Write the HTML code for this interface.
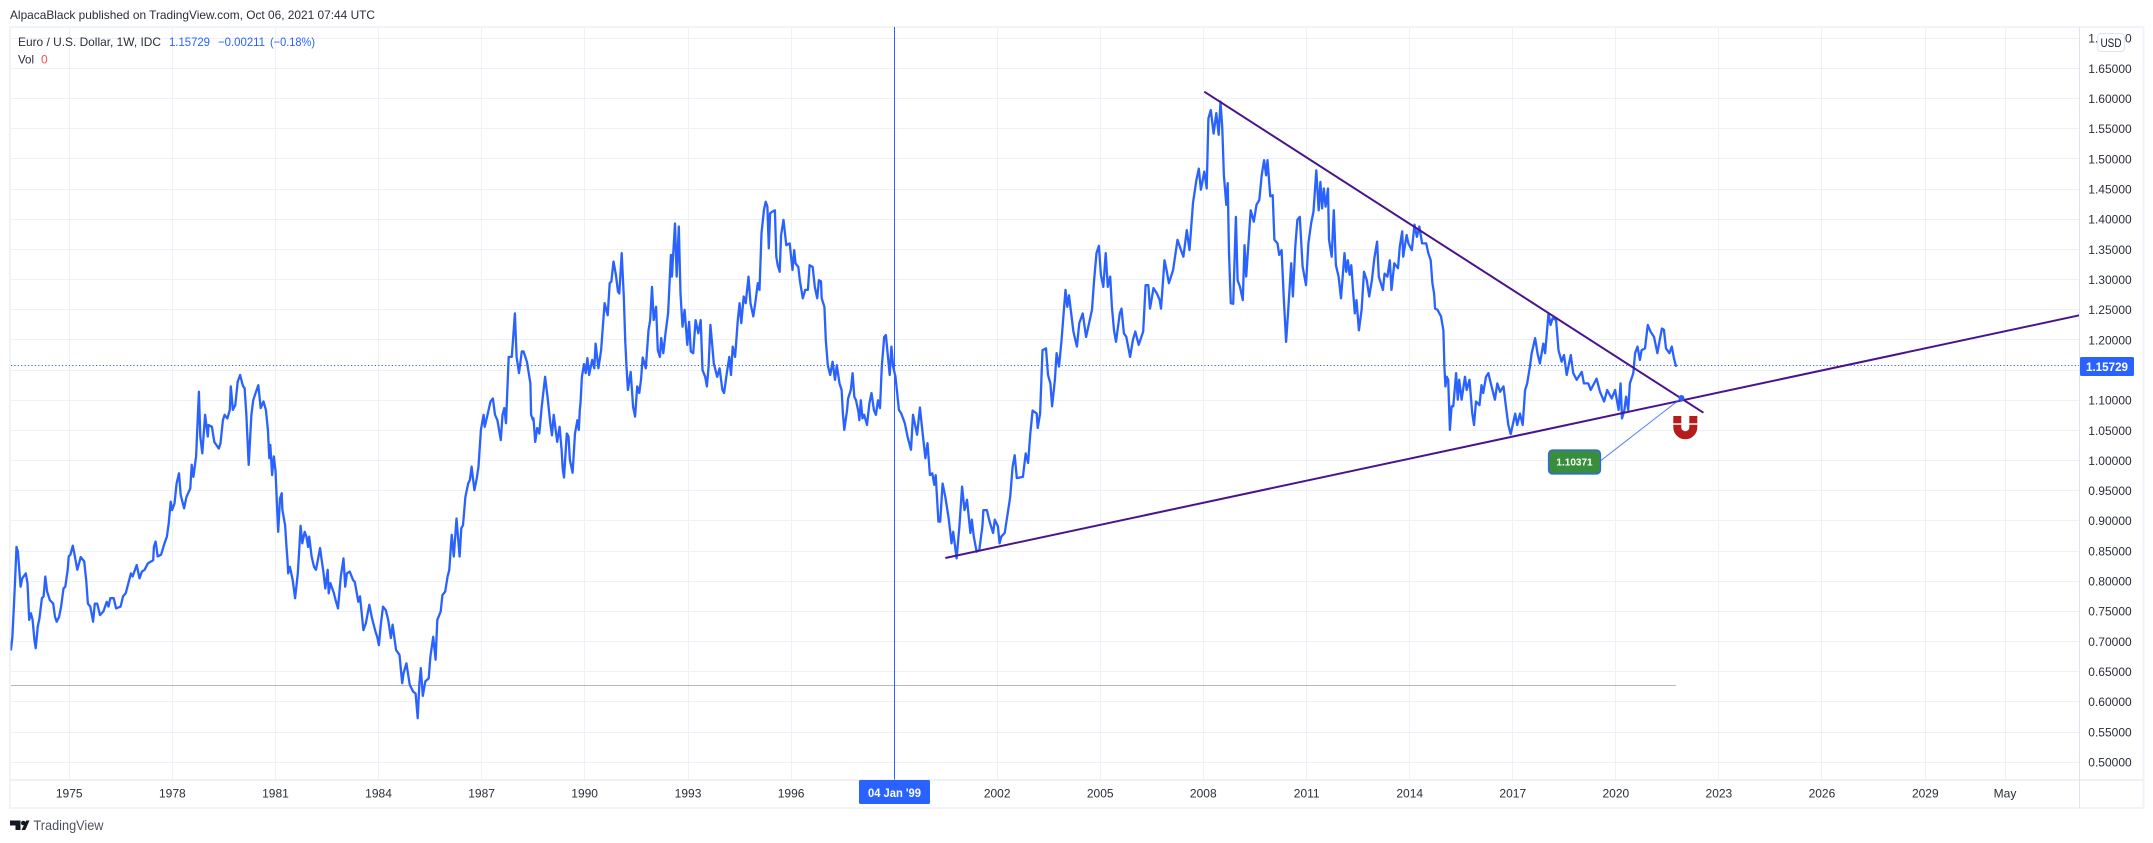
<!DOCTYPE html>
<html lang="en">
<head>
<meta charset="utf-8">
<title>EUR/USD weekly chart</title>
<style>
html,body{margin:0;padding:0;background:#fff;width:2153px;height:843px;overflow:hidden}
svg{display:block}
text{font-family:"Liberation Sans",Arial,sans-serif}
</style>
</head>
<body>
<svg id="chart" xmlns="http://www.w3.org/2000/svg" width="2153" height="843" viewBox="0 0 2153 843">
  <defs>
    <clipPath id="plot-clip"><rect x="10.5" y="27" width="2068.5" height="753"/></clipPath>
  </defs>
  <rect x="0" y="0" width="2153" height="843" fill="#ffffff"/>
  <text x="10" y="19" font-size="12" fill="#2a2e39" textLength="365" lengthAdjust="spacingAndGlyphs">AlpacaBlack published on TradingView.com, Oct 06, 2021 07:44 UTC</text>
  <rect x="10" y="27" width="2133.5" height="781" fill="#ffffff" stroke="#f0f3fa" stroke-width="2"/>
  <g id="grid"></g>
  <g clip-path="url(#plot-clip)">
    <g id="volume" opacity="0.55"></g>
    <line id="last-price-line" stroke="#2962ff" stroke-width="1" stroke-dasharray="1.2 2.2"/>
    <line id="crosshair" stroke="#2962ff" stroke-width="1"/>
    <path id="price-line" fill="none" stroke="#2962ff" stroke-width="2.3" stroke-linejoin="round" stroke-linecap="round"/>
    <g id="trendlines"></g>
    <line id="callout-line" stroke="#2962ff" stroke-opacity="0.8" stroke-width="1"/>
    <circle id="callout-dot" r="3" fill="#2962ff"/>
  </g>
  <g>
    <path d="M1677.3 424.8 V427.3 A8 8 0 0 0 1693.3 427.3 V424.8" fill="none" stroke="#b71c1c" stroke-width="8"/>
    <rect x="1673.3" y="416" width="8" height="7.3" fill="#b71c1c"/>
    <rect x="1689.3" y="416" width="8" height="7.3" fill="#b71c1c"/>
  </g>
  <g>
    <rect x="1548.5" y="450" width="52" height="24" rx="4" fill="#388e3c" stroke="#2962ff" stroke-width="1.2"/>
    <text id="callout-text" x="1574.5" y="465.5" font-size="10" font-weight="700" fill="#ffffff" text-anchor="middle">1.10371</text>
  </g>
  <line x1="10" y1="780" x2="2143" y2="780" stroke="#e0e3eb" stroke-width="1"/>
  <line x1="2079.5" y1="27" x2="2079.5" y2="808" stroke="#e0e3eb" stroke-width="1"/>
  <g id="y-axis"></g>
  <g id="x-axis"></g>
  <g>
    <rect x="2097.7" y="33.5" width="26.6" height="18" rx="3" fill="#ffffff" stroke="#e0e3eb" stroke-width="1"/>
    <text x="2111" y="47" font-size="12" fill="#131722" text-anchor="middle" textLength="21" lengthAdjust="spacingAndGlyphs">USD</text>
  </g>
  <g>
    <rect x="2080" y="357" width="54" height="19" rx="1.5" fill="#2962ff"/>
    <text x="2107" y="371" font-size="12" font-weight="700" fill="#ffffff" text-anchor="middle" textLength="42" lengthAdjust="spacingAndGlyphs">1.15729</text>
  </g>
  <g>
    <rect x="859" y="780" width="71" height="24" rx="1.5" fill="#2962ff"/>
    <text x="894.5" y="797" font-size="12" font-weight="700" fill="#ffffff" text-anchor="middle" textLength="53" lengthAdjust="spacingAndGlyphs">04 Jan '99</text>
  </g>
  <g>
    <text x="18" y="46" font-size="12" fill="#2a2e39" textLength="143" lengthAdjust="spacingAndGlyphs">Euro / U.S. Dollar, 1W, IDC</text>
    <text x="169" y="46" font-size="12" fill="#2962ff" textLength="41" lengthAdjust="spacingAndGlyphs">1.15729</text>
    <text x="218" y="46" font-size="12" fill="#2962ff" textLength="47" lengthAdjust="spacingAndGlyphs">−0.00211</text>
    <text x="270" y="46" font-size="12" fill="#2962ff" textLength="45" lengthAdjust="spacingAndGlyphs">(−0.18%)</text>
    <text x="18" y="63.5" font-size="12" fill="#2a2e39" textLength="16" lengthAdjust="spacingAndGlyphs">Vol</text>
    <text x="41" y="63.5" font-size="12" fill="#ef5350">0</text>
  </g>
  <g>
    <polygon points="10,820.5 20.5,820.5 20.5,830 15.5,830 15.5,825.5 10,825.5" fill="#131722"/>
    <circle cx="23.3" cy="823" r="2.3" fill="#131722"/>
    <polygon points="21.5,830 26.2,820.5 29.5,820.5 25.3,830" fill="#131722"/>
    <text x="33.5" y="830" font-size="14" fill="#50535e" textLength="70" lengthAdjust="spacingAndGlyphs">TradingView</text>
  </g>
</svg>
<script>
const yTickValues = [1.70,1.65,1.60,1.55,1.50,1.45,1.40,1.35,1.30,1.25,1.20,1.15,1.10,1.05,1.00,0.95,0.90,0.85,0.80,0.75,0.70,0.65,0.60,0.55,0.50];
const xTickYears = [1975.005,1978.007,1981.01,1984.01,1987.01,1990.01,1993.02,1996.02,1999.02,2002.02,2005.02,2008.02,2011.03,2014.03,2017.03,2020.03,2023.03,2026.03,2029.04,2031.36];
const xTickLabels = ["1975","1978","1981","1984","1987","1990","1993","1996","","2002","2005","2008","2011","2014","2017","2020","2023","2026","2029","May"];
const lastClose = 1.15729;
const crosshairYear = 1999.03;
const volumeBaseline = 0.6276;
const calloutYear = 2021.94;
const calloutPrice = 1.10371;
const supportYears = [2000.51,2023.64,2035];
const supportPrices = [0.8386,1.1237,1.2588];
const resistanceYears = [2008.05,2022.58];
const resistancePrices = [1.6115,1.0794];

const years = [
1973.31,1973.35,1973.39,1973.43,1973.47,1973.51,1973.59,1973.64,1973.74,1973.79,1973.84,1973.89,1973.94,1973.99,1974.03,1974.09,1974.14,1974.21,1974.26,1974.31,
1974.36,1974.44,1974.54,1974.59,1974.64,1974.71,1974.77,1974.84,1974.89,1974.96,1974.99,1975.04,1975.11,1975.17,1975.24,1975.34,1975.44,1975.50,1975.55,1975.62,
1975.70,1975.75,1975.82,1975.90,1976.00,1976.10,1976.15,1976.20,1976.30,1976.37,1976.50,1976.57,1976.65,1976.75,1976.80,1976.85,1976.97,1977.05,1977.12,1977.20,
1977.30,1977.45,1977.47,1977.52,1977.58,1977.68,1977.78,1977.85,1977.90,1977.96,1978.00,1978.07,1978.13,1978.20,1978.25,1978.35,1978.42,1978.53,1978.57,1978.62,
1978.70,1978.78,1978.82,1978.88,1978.96,1979.04,1979.06,1979.16,1979.23,1979.36,1979.41,1979.48,1979.53,1979.61,1979.68,1979.71,1979.77,1979.84,1979.91,1979.98,
1980.06,1980.11,1980.16,1980.23,1980.31,1980.36,1980.43,1980.51,1980.58,1980.66,1980.73,1980.79,1980.83,1980.86,1980.91,1980.96,1981.01,1981.06,1981.09,1981.14,
1981.19,1981.21,1981.29,1981.33,1981.36,1981.38,1981.43,1981.51,1981.58,1981.66,1981.71,1981.74,1981.79,1981.86,1981.91,1981.96,1981.99,1982.06,1982.13,1982.19,
1982.31,1982.34,1982.41,1982.46,1982.53,1982.56,1982.61,1982.71,1982.76,1982.83,1982.91,1982.99,1983.04,1983.09,1983.17,1983.27,1983.32,1983.42,1983.47,1983.57,
1983.64,1983.74,1983.82,1983.92,1983.97,1984.02,1984.07,1984.14,1984.22,1984.29,1984.37,1984.42,1984.52,1984.62,1984.70,1984.74,1984.82,1984.92,1985.02,1985.09,
1985.15,1985.20,1985.24,1985.30,1985.37,1985.47,1985.52,1985.60,1985.67,1985.72,1985.82,1985.87,1985.95,1986.02,1986.07,1986.14,1986.20,1986.28,1986.37,1986.42,
1986.47,1986.54,1986.62,1986.67,1986.72,1986.80,1986.87,1986.92,1986.99,1987.07,1987.10,1987.17,1987.27,1987.34,1987.40,1987.47,1987.57,1987.62,1987.67,1987.72,
1987.80,1987.89,1987.98,1988.03,1988.10,1988.18,1988.23,1988.33,1988.43,1988.45,1988.51,1988.52,1988.57,1988.63,1988.69,1988.76,1988.86,1988.93,1989.01,1989.06,
1989.11,1989.21,1989.28,1989.34,1989.37,1989.41,1989.49,1989.54,1989.58,1989.66,1989.73,1989.80,1989.84,1989.87,1989.89,1989.93,1989.99,1990.04,1990.09,1990.14,
1990.23,1990.29,1990.33,1990.41,1990.49,1990.59,1990.68,1990.74,1990.79,1990.85,1990.92,1990.98,1991.02,1991.09,1991.15,1991.19,1991.23,1991.27,1991.35,1991.42,
1991.48,1991.54,1991.60,1991.65,1991.70,1991.79,1991.87,1991.92,1991.97,1992.02,1992.09,1992.14,1992.20,1992.24,1992.30,1992.37,1992.44,1992.52,1992.55,1992.64,
1992.69,1992.75,1992.80,1992.86,1992.92,1993.00,1993.05,1993.10,1993.17,1993.24,1993.32,1993.39,1993.44,1993.52,1993.57,1993.62,1993.67,1993.72,1993.77,1993.87,
1993.94,1994.02,1994.07,1994.15,1994.22,1994.27,1994.32,1994.39,1994.47,1994.52,1994.57,1994.64,1994.70,1994.78,1994.84,1994.92,1994.98,1995.05,1995.10,1995.16,
1995.23,1995.28,1995.33,1995.37,1995.41,1995.48,1995.55,1995.59,1995.63,1995.69,1995.73,1995.80,1995.88,1995.98,1996.06,1996.11,1996.15,1996.23,1996.28,1996.36,
1996.43,1996.51,1996.56,1996.65,1996.71,1996.78,1996.83,1996.89,1996.91,1996.99,1997.03,1997.09,1997.16,1997.23,1997.30,1997.35,1997.43,1997.49,1997.53,1997.57,
1997.65,1997.68,1997.76,1997.81,1997.86,1997.91,1997.98,1998.01,1998.05,1998.10,1998.15,1998.23,1998.30,1998.36,1998.43,1998.49,1998.55,1998.61,1998.66,1998.73,
1998.78,1998.89,1998.94,1998.99,1999.06,1999.09,1999.16,1999.23,1999.33,1999.41,1999.51,1999.57,1999.69,1999.77,1999.86,1999.93,1999.99,2000.06,2000.13,2000.19,
2000.23,2000.31,2000.36,2000.43,2000.51,2000.61,2000.69,2000.74,2000.84,2000.92,2001.00,2001.07,2001.14,2001.24,2001.28,2001.34,2001.42,2001.50,2001.59,2001.62,
2001.72,2001.80,2001.90,2001.95,2002.04,2002.09,2002.14,2002.24,2002.34,2002.40,2002.47,2002.53,2002.59,2002.77,2002.85,2002.92,2002.98,2003.05,2003.17,2003.20,
2003.27,2003.34,2003.44,2003.50,2003.57,2003.62,2003.70,2003.75,2003.82,2003.89,2003.94,2004.01,2004.06,2004.11,2004.24,2004.34,2004.41,2004.51,2004.61,2004.78,
2004.84,2004.91,2004.98,2005.04,2005.11,2005.18,2005.24,2005.31,2005.36,2005.42,2005.48,2005.59,2005.64,2005.71,2005.78,2005.89,2005.97,2006.04,2006.14,2006.27,
2006.34,2006.42,2006.47,2006.57,2006.67,2006.75,2006.79,2006.89,2006.94,2007.02,2007.14,2007.27,2007.37,2007.44,2007.54,2007.62,2007.72,2007.82,2007.89,2007.95,
2008.05,2008.12,2008.17,2008.24,2008.32,2008.40,2008.47,2008.52,2008.57,2008.62,2008.69,2008.73,2008.77,2008.82,2008.89,2008.97,2009.02,2009.09,2009.17,2009.22,
2009.27,2009.40,2009.49,2009.57,2009.65,2009.72,2009.79,2009.85,2009.89,2009.97,2010.04,2010.09,2010.18,2010.23,2010.30,2010.36,2010.43,2010.48,2010.58,2010.63,
2010.70,2010.76,2010.83,2010.91,2011.01,2011.08,2011.16,2011.23,2011.31,2011.38,2011.43,2011.48,2011.53,2011.58,2011.65,2011.68,2011.76,2011.82,2011.88,2011.96,
2012.03,2012.13,2012.18,2012.23,2012.28,2012.33,2012.38,2012.43,2012.48,2012.55,2012.63,2012.70,2012.78,2012.85,2012.93,2013.00,2013.08,2013.13,2013.25,2013.30,
2013.38,2013.45,2013.50,2013.58,2013.69,2013.74,2013.81,2013.84,2013.94,2013.99,2014.09,2014.17,2014.24,2014.31,2014.39,2014.51,2014.57,2014.64,2014.69,2014.74,
2014.77,2014.84,2014.94,2015.01,2015.04,2015.07,2015.11,2015.15,2015.20,2015.25,2015.30,2015.38,2015.43,2015.47,2015.54,2015.64,2015.69,2015.77,2015.85,2015.90,
2015.96,2016.06,2016.12,2016.17,2016.25,2016.32,2016.39,2016.51,2016.58,2016.66,2016.76,2016.83,2016.90,2016.97,2017.10,2017.16,2017.24,2017.32,2017.39,2017.45,
2017.53,2017.58,2017.68,2017.75,2017.82,2017.92,2017.97,2018.07,2018.13,2018.19,2018.29,2018.36,2018.45,2018.52,2018.60,2018.72,2018.79,2018.89,2019.04,2019.10,
2019.23,2019.30,2019.47,2019.57,2019.69,2019.78,2019.91,2020.01,2020.11,2020.17,2020.21,2020.28,2020.33,2020.39,2020.44,2020.54,2020.59,2020.66,2020.73,2020.78,
2020.88,2020.96,2021.04,2021.14,2021.24,2021.30,2021.37,2021.43,2021.49,2021.59,2021.66,2021.72,2021.78
];
const closes = [
.687,.708,.752,.802,.857,.849,.791,.805,.813,.797,.736,.747,.736,.703,.689,.725,.739,.772,.775,.808,
.783,.769,.763,.741,.733,.741,.758,.788,.791,.819,.841,.844,.859,.841,.819,.840,.833,.802,.763,.758,
.733,.763,.763,.744,.750,.766,.758,.772,.772,.755,.758,.775,.780,.802,.813,.808,.827,.805,.816,.819,
.830,.835,.857,.866,.841,.844,.863,.874,.896,.932,.918,.929,.962,.979,.943,.921,.940,.954,.993,.973,
1.007,1.114,1.040,1.012,1.076,1.040,1.059,1.056,1.031,1.020,1.029,1.067,1.076,1.070,1.084,1.123,1.084,1.092,1.131,1.142,
1.124,1.120,1.078,.993,1.076,1.100,1.112,1.125,1.087,1.098,1.084,1.051,1.004,1.026,.976,1.007,.984,.918,.882,.937,
.946,.918,.893,.857,.835,.813,.824,.802,.772,.813,.860,.892,.863,.882,.874,.857,.874,.841,.824,.819,
.855,.841,.813,.788,.819,.780,.797,.780,.769,.755,.808,.838,.791,.813,.816,.802,.799,.766,.775,.719,
.730,.761,.739,.717,.708,.694,.725,.758,.752,.736,.706,.728,.686,.678,.631,.648,.664,.628,.617,.614,
.573,.631,.656,.610,.634,.639,.675,.708,.670,.736,.750,.777,.783,.808,.819,.877,.841,.904,.841,.888,
.893,.940,.962,.968,.990,.951,.971,.990,1.051,1.076,1.056,1.073,1.098,1.103,1.076,1.067,1.034,1.076,1.087,1.062,
1.172,1.172,1.244,1.172,1.145,1.181,1.181,1.164,1.128,1.076,1.067,1.070,1.031,1.054,1.045,1.089,1.139,1.106,1.062,1.042,
1.076,1.031,1.056,1.018,.987,.972,1.045,1.040,1.001,.980,1.045,1.067,1.051,1.084,1.095,1.139,1.160,1.145,1.170,1.142,
1.167,1.153,1.194,1.153,1.183,1.261,1.241,1.294,1.297,1.330,1.308,1.280,1.277,1.344,1.272,1.200,1.156,1.117,1.147,1.089,
1.073,1.123,1.112,1.134,1.171,1.153,1.216,1.233,1.288,1.233,1.255,1.183,1.172,1.203,1.178,1.214,1.244,1.341,1.305,1.393,
1.305,1.388,1.277,1.222,1.250,1.192,1.230,1.181,1.178,1.233,1.211,1.233,1.150,1.139,1.123,1.156,1.225,1.194,1.161,1.139,
1.153,1.117,1.112,1.145,1.172,1.142,1.189,1.172,1.233,1.261,1.228,1.272,1.261,1.305,1.261,1.239,1.263,1.294,1.283,1.377,
1.415,1.429,1.421,1.352,1.410,1.413,1.415,1.338,1.324,1.313,1.374,1.399,1.357,1.360,1.316,1.349,1.327,1.321,1.297,1.269,
1.283,1.283,1.324,1.321,1.288,1.269,1.299,1.297,1.269,1.255,1.200,1.158,1.142,1.164,1.134,1.158,1.128,1.117,1.078,1.051,
1.084,1.103,1.117,1.145,1.106,1.100,1.081,1.067,1.100,1.070,1.076,1.059,1.095,1.112,1.084,1.076,1.100,1.087,1.156,1.205,
1.208,1.142,1.189,1.156,1.139,1.123,1.084,1.078,1.062,1.040,1.018,1.076,1.043,1.088,1.040,1.004,1.029,.976,.979,.960,
.976,.899,.899,.962,.940,.904,.863,.882,.838,.891,.957,.918,.935,.880,.902,.874,.849,.852,.891,.918,
.918,.899,.880,.902,.891,.863,.874,.880,.918,.940,.990,1.009,.971,.973,1.012,.996,1.043,1.083,1.078,1.054,
1.078,1.183,1.186,1.142,1.128,1.090,1.134,1.178,1.156,1.197,1.233,1.283,1.255,1.274,1.214,1.189,1.228,1.244,1.205,1.250,
1.297,1.344,1.356,1.308,1.288,1.344,1.288,1.305,1.255,1.216,1.197,1.244,1.252,1.211,1.205,1.172,1.200,1.214,1.192,1.214,
1.291,1.291,1.252,1.286,1.277,1.266,1.252,1.332,1.319,1.294,1.316,1.366,1.349,1.338,1.382,1.349,1.427,1.465,1.484,1.449,
1.479,1.451,1.567,1.581,1.542,1.576,1.540,1.595,1.554,1.473,1.424,1.460,1.344,1.261,1.260,1.404,1.299,1.288,1.266,1.357,
1.305,1.415,1.396,1.424,1.432,1.473,1.498,1.473,1.498,1.438,1.440,1.366,1.360,1.341,1.349,1.272,1.197,1.239,1.327,1.272,
1.355,1.399,1.404,1.322,1.291,1.360,1.393,1.413,1.481,1.415,1.462,1.418,1.451,1.421,1.451,1.366,1.338,1.415,1.324,1.305,
1.269,1.344,1.313,1.332,1.308,1.324,1.283,1.244,1.266,1.216,1.250,1.313,1.299,1.272,1.299,1.335,1.363,1.305,1.283,1.310,
1.305,1.332,1.283,1.327,1.319,1.355,1.380,1.338,1.374,1.360,1.349,1.391,1.371,1.388,1.360,1.360,1.344,1.332,1.294,1.277,
1.252,1.250,1.239,1.216,1.156,1.123,1.139,1.134,1.051,1.090,1.090,1.145,1.101,1.134,1.101,1.139,1.117,1.134,1.079,1.059,
1.098,1.092,1.125,1.112,1.139,1.145,1.128,1.101,1.128,1.114,1.123,1.090,1.059,1.044,1.078,1.059,1.078,1.059,1.117,1.128,
1.156,1.178,1.203,1.178,1.161,1.194,1.178,1.244,1.225,1.236,1.233,1.183,1.164,1.175,1.142,1.175,1.145,1.134,1.147,1.128,
1.128,1.117,1.136,1.114,1.098,1.117,1.103,1.117,1.084,1.128,1.070,1.084,1.106,1.084,1.128,1.145,1.178,1.189,1.167,1.183,
1.186,1.225,1.214,1.205,1.178,1.197,1.219,1.217,1.186,1.178,1.189,1.170,1.157
];

const SVG_NS = "http://www.w3.org/2000/svg";
function xScale(year) { return (year - 1972.99) * 34.35; }
function yScale(price) { return (1.7635 - price) * 603.3; }
function crisp(v) { return Math.floor(v) + 0.5; }
function makeEl(tag, parent, attrs) {
  const el = document.createElementNS(SVG_NS, tag);
  for (const key in attrs) el.setAttribute(key, attrs[key]);
  parent.appendChild(el);
  return el;
}

const gridGroup = document.getElementById("grid");
const yAxisGroup = document.getElementById("y-axis");
const xAxisGroup = document.getElementById("x-axis");

yTickValues.forEach(function (value) {
  const y = yScale(value);
  const gridLine = makeEl("line", gridGroup, {x1: 11, x2: 2079, y1: crisp(y), y2: crisp(y), stroke: "#eef1f7", "stroke-width": 1});
  
  
  const label = makeEl("text", yAxisGroup, {x: 2110, y: y + 4.3, "font-size": 12, fill: "#2a2e39", "text-anchor": "middle"});
  label.textContent = value.toFixed(5);
  
  
});

xTickYears.forEach(function (year, i) {
  const x = xScale(year);
  const gridLine = makeEl("line", gridGroup, {x1: crisp(x), x2: crisp(x), y1: 28, y2: 780, stroke: "#eef1f7", "stroke-width": 1});
  
  
  if (xTickLabels[i]) {
    const label = makeEl("text", xAxisGroup, {x: x, y: 797.5, "font-size": 12, fill: "#2a2e39", "text-anchor": "middle"});
    label.textContent = xTickLabels[i];
    
    
  }
});

let pricePath = "";
const pointCount = Math.min(years.length, closes.length);
for (let i = 0; i < pointCount; i++) {
  pricePath += (i ? "L" : "M") + xScale(years[i]).toFixed(1) + " " + yScale(closes[i]).toFixed(1);
}
document.getElementById("price-line").setAttribute("d", pricePath);

const lastLine = document.getElementById("last-price-line");
lastLine.setAttribute("x1", 11);
lastLine.setAttribute("x2", 2079);
lastLine.setAttribute("y1", crisp(yScale(lastClose)));
lastLine.setAttribute("y2", crisp(yScale(lastClose)));

const crosshair = document.getElementById("crosshair");
crosshair.setAttribute("x1", crisp(xScale(crosshairYear)));
crosshair.setAttribute("x2", crisp(xScale(crosshairYear)));
crosshair.setAttribute("y1", 27);
crosshair.setAttribute("y2", 780);

const volumeGroup = document.getElementById("volume");
const baselineEnd = xScale(years[pointCount - 1]);
const volumeY = crisp(yScale(volumeBaseline));
const volumeGreen = makeEl("line", volumeGroup, {x1: 11, x2: baselineEnd, y1: volumeY, y2: volumeY, stroke: "#26a69a", "stroke-width": 1});


const volumeRed = makeEl("line", volumeGroup, {x1: 11, x2: baselineEnd, y1: volumeY, y2: volumeY, stroke: "#ef5350", "stroke-width": 1, "stroke-dasharray": "1.2 1.2"});



const trendGroup = document.getElementById("trendlines");
const support = makeEl("line", trendGroup, {x1: xScale(supportYears[0]), y1: yScale(supportPrices[0]), x2: xScale(supportYears[2]), y2: yScale(supportPrices[2]), stroke: "#4a148c", "stroke-width": 2});


const resistance = makeEl("line", trendGroup, {x1: xScale(resistanceYears[0]), y1: yScale(resistancePrices[0]), x2: xScale(resistanceYears[1]), y2: yScale(resistancePrices[1]), stroke: "#4a148c", "stroke-width": 2});



const dot = document.getElementById("callout-dot");
dot.setAttribute("cx", xScale(calloutYear));
dot.setAttribute("cy", yScale(calloutPrice));
const connector = document.getElementById("callout-line");
connector.setAttribute("x1", 1600.7);
connector.setAttribute("y1", 460.7);
connector.setAttribute("x2", xScale(calloutYear));
connector.setAttribute("y2", yScale(calloutPrice));
</script>
</body>
</html>
